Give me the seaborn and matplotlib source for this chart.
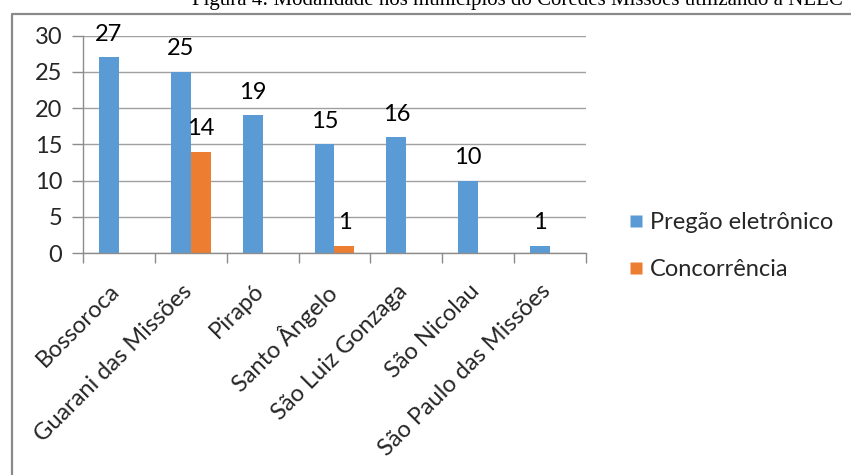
import matplotlib
matplotlib.use("Agg")
import matplotlib.pyplot as plt
import matplotlib.transforms as mtransforms
import seaborn as sns
import pandas as pd
import numpy as np
from matplotlib.lines import Line2D

categories = ["Bossoroca", "Guarani das Missões", "Pirapó", "Santo Ângelo",
              "São Luiz Gonzaga", "São Nicolau", "São Paulo das Missões"]
pregao = [27, 25, 19, 15, 16, 10, 1]
concorrencia = [np.nan, 14, np.nan, 1, np.nan, np.nan, np.nan]
series_names = ["Pregão eletrônico", "Concorrência"]
yticks = [0, 5, 10, 15, 20, 25, 30]
title = "Figura 4: Modalidade nos municípios do Coredes Missões utilizando a NLLC"

df = pd.DataFrame({
    "Município": categories * 2,
    "Série": [series_names[0]] * len(categories) + [series_names[1]] * len(categories),
    "Valor": pregao + concorrencia,
})

sns.set_theme(style="white")
plt.rcParams['font.family'] = ['Lato', 'DejaVu Sans']
FS = 17

W, H = 851, 475
fig = plt.figure(figsize=(W / 100, H / 100), dpi=100)
ax = fig.add_axes([83 / W, 1 - 253 / H, (586 - 83) / W, (253 - 35.7) / H])

palette = {series_names[0]: "#5B9BD5", series_names[1]: "#ED7D31"}
sns.barplot(data=df, x="Município", y="Valor", hue="Série", order=categories,
            hue_order=series_names, palette=palette, width=0.556, gap=0,
            saturation=1, ax=ax, legend=False, edgecolor="none")

for cont in ax.containers:
    ax.bar_label(cont, fmt="%.0f", padding=9, fontsize=FS, color="black")

ax.set_ylim(0, 30)
ax.set_xlim(-0.5, len(categories) - 0.5)
ax.set_yticks(yticks)
ax.set_yticklabels([str(t) for t in yticks], fontsize=FS)
ax.yaxis.grid(True, color="#A0A0A0", lw=1)
ax.set_axisbelow(True)
ax.set_xlabel("")
ax.set_ylabel("")

for s in ["top", "right"]:
    ax.spines[s].set_visible(False)
for s in ["left", "bottom"]:
    ax.spines[s].set_color("#8C8C8C")
    ax.spines[s].set_linewidth(1)

ax.tick_params(axis="y", length=8, width=1, color="#8C8C8C", pad=7, left=True)
ax.set_xticks(range(len(categories)))
ax.set_xticklabels(categories, rotation=45, ha="right", rotation_mode="anchor", fontsize=FS)
ax.tick_params(axis="x", which="major", length=0, pad=14)
ax.set_xticks(np.arange(-0.5, len(categories), 1), minor=True)
ax.tick_params(axis="x", which="minor", length=7, width=1, color="#8C8C8C", bottom=True)
offset = mtransforms.ScaledTranslation(-10 / 100, -8 / 100, fig.dpi_scale_trans)
for lbl in ax.get_xticklabels():
    lbl.set_transform(lbl.get_transform() + offset)

handles = [Line2D([0], [0], marker="s", linestyle="none", markersize=8,
                  markerfacecolor=palette[n], markeredgecolor="none") for n in series_names]
fig.legend(handles, series_names, loc="center left", bbox_to_anchor=(616 / W, 1 - 246 / H),
           frameon=False, fontsize=FS, labelspacing=1.1, handletextpad=0.25,
           borderpad=0, handlelength=0.7)

# frame
fig.add_artist(Line2D([12 / W, 12 / W, 1.01], [-0.01, 1 - 14 / H, 1 - 14 / H],
                      transform=fig.transFigure, color="#8A8A8A", lw=1.6))
fig.text(517 / W, 1 - 5 / H, title, ha="center", va="baseline",
         family="Liberation Serif", fontsize=15, color="black")

fig.savefig("out.png", dpi=100)
